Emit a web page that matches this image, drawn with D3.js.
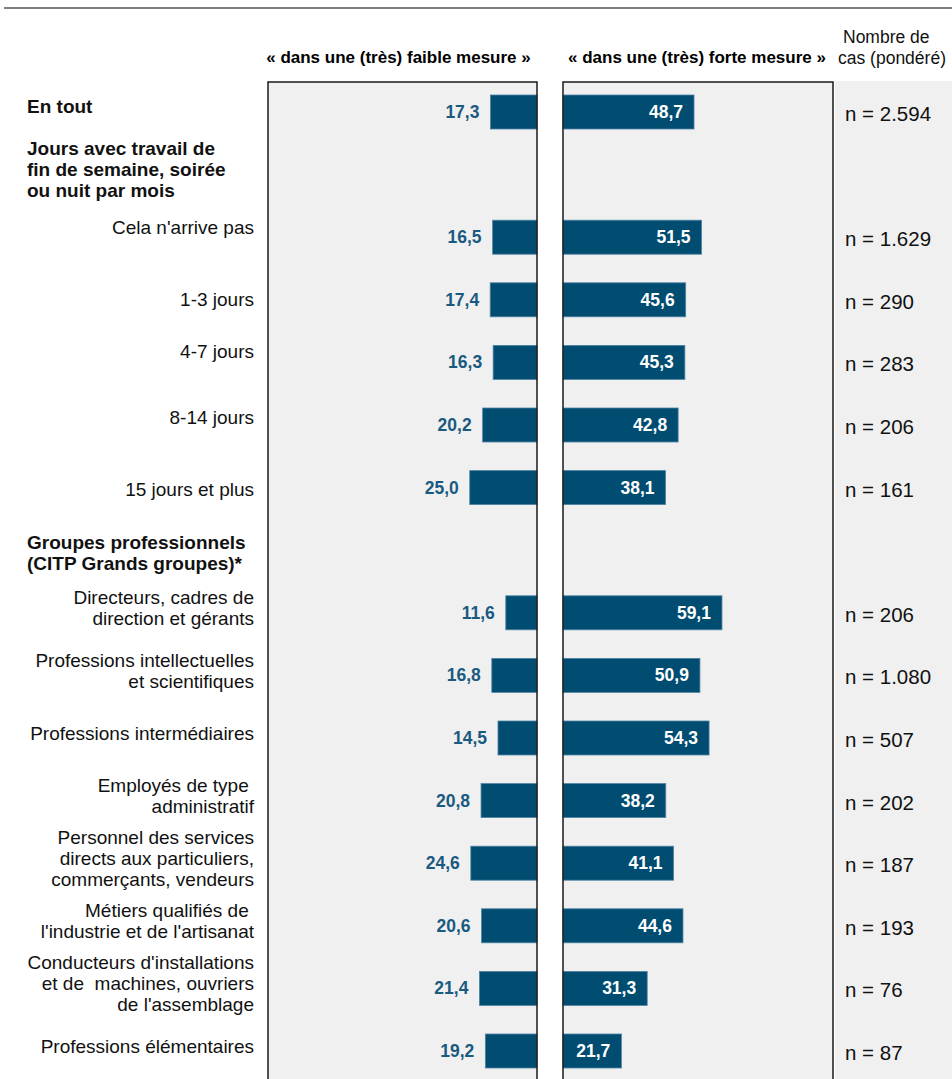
<!DOCTYPE html>
<html lang="fr">
<head>
<meta charset="utf-8">
<script src="https://cdn.jsdelivr.net/npm/d3@7"></script>
<style>
  html, body { margin: 0; padding: 0; background: #fff; }
  svg { display: block; font-family: "Liberation Sans", Arial, sans-serif; }
</style>
</head>
<body>
<svg id="chart" width="952" height="1079"></svg>
<script>
// Row order: section headings take a row slot of their own
const rows = [
  "En tout",
  "Jours avec travail de|fin de semaine, soirée|ou nuit par mois",
  "Cela n'arrive pas",
  "1-3 jours",
  "4-7 jours",
  "8-14 jours",
  "15 jours et plus",
  "Groupes professionnels|(CITP Grands groupes)*",
  "Directeurs, cadres de|direction et gérants",
  "Professions intellectuelles|et scientifiques",
  "Professions intermédiaires",
  "Employés de type |administratif",
  "Personnel des services|directs aux particuliers,|commerçants, vendeurs",
  "Métiers qualifiés de |l'industrie et de l'artisanat",
  "Conducteurs d'installations|et de  machines, ouvriers|de l'assemblage",
  "Professions élémentaires"
];
const headingRows = [
  "En tout",
  "Jours avec travail de|fin de semaine, soirée|ou nuit par mois",
  "Groupes professionnels|(CITP Grands groupes)*"
];

// Share answering "to a (very) low extent" / "to a (very) high extent", in %
const categories = [
  "En tout", "Cela n'arrive pas", "1-3 jours", "4-7 jours", "8-14 jours", "15 jours et plus",
  "Directeurs, cadres de|direction et gérants",
  "Professions intellectuelles|et scientifiques",
  "Professions intermédiaires",
  "Employés de type |administratif",
  "Personnel des services|directs aux particuliers,|commerçants, vendeurs",
  "Métiers qualifiés de |l'industrie et de l'artisanat",
  "Conducteurs d'installations|et de  machines, ouvriers|de l'assemblage",
  "Professions élémentaires"
];
const lowValues  = [17.3, 16.5, 17.4, 16.3, 20.2, 25.0, 11.6, 16.8, 14.5, 20.8, 24.6, 20.6, 21.4, 19.2];
const highValues = [48.7, 51.5, 45.6, 45.3, 42.8, 38.1, 59.1, 50.9, 54.3, 38.2, 41.1, 44.6, 31.3, 21.7];
const caseCounts = ["2.594", "1.629", "290", "283", "206", "161", "206", "1.080", "507", "202", "187", "193", "76", "87"];

const headerLow = "« dans une (très) faible mesure »";
const headerHigh = "« dans une (très) forte mesure »";
const headerCases = ["Nombre de", "cas (pondéré)"];

// Layout
const W = 952, H = 1079;
const panelTop = 82;
const leftPanel = [268, 537];
const rightPanel = [563, 833];
const caseX = 845;
const labelRight = 254;
const headingLeft = 27;
const barH = 34;
const lineH = 21;
const barColor = "#014d72";
const valueColor = "#1a5a80";
const fmt = v => d3.format(".1f")(v).replace(".", ",");
// vertical nudges of row labels relative to their row centre (px)
const labelNudge = {
  "En tout": -6,
  "Jours avec travail de|fin de semaine, soirée|ou nuit par mois": -6,
  "Groupes professionnels|(CITP Grands groupes)*": 2,
  "Cela n'arrive pas": -10, "1-3 jours": -1, "4-7 jours": -11, "8-14 jours": -8,
  "15 jours et plus": 1
};

const svg = d3.select("#chart");

const y = d3.scalePoint().domain(rows).range([112, 1051]);
const x = d3.scaleLinear().domain([0, 100]).range([0, leftPanel[1] - leftPanel[0]]);

const data = categories.map((c, i) => ({ cat: c, low: lowValues[i], high: highValues[i], n: caseCounts[i] }));

// top rule
svg.append("line").attr("x1", 4).attr("x2", W).attr("y1", 8).attr("y2", 8)
  .attr("stroke", "#555").attr("stroke-width", 1.5);

// column headers
svg.append("text").attr("x", (leftPanel[0] + leftPanel[1]) / 2 - 4).attr("y", 63)
  .attr("text-anchor", "middle").attr("font-weight", "bold").attr("font-size", 17).text(headerLow);
svg.append("text").attr("x", (rightPanel[0] + rightPanel[1]) / 2 - 1).attr("y", 63)
  .attr("text-anchor", "middle").attr("font-weight", "bold").attr("font-size", 17).text(headerHigh);
svg.append("text").attr("font-size", 17.5).attr("fill", "#111")
  .selectAll("tspan").data(headerCases).join("tspan")
  .attr("x", (d, i) => i === 0 ? 843 : 838).attr("y", (d, i) => 43 + i * 21).text(d => d);

// panel backgrounds
svg.append("rect").attr("x", rightPanel[1] + 2).attr("y", panelTop - 1).attr("width", W - rightPanel[1] - 2)
  .attr("height", H - panelTop + 2).attr("fill", "#f0f0f0");
[leftPanel, rightPanel].forEach(p => {
  svg.append("rect").attr("x", p[0]).attr("y", panelTop).attr("width", p[1] - p[0])
    .attr("height", H - panelTop + 10).attr("fill", "#f0f0f0");
});

// bars
const gLow = svg.append("g");
gLow.selectAll("rect").data(data).join("rect")
  .attr("x", d => leftPanel[1] - x(d.low)).attr("y", d => y(d.cat) - barH / 2)
  .attr("width", d => x(d.low)).attr("height", barH)
  .attr("fill", barColor).attr("stroke", "#4f82a3").attr("stroke-width", 0.8);
gLow.selectAll("text").data(data).join("text")
  .attr("x", d => leftPanel[1] - x(d.low) - 11).attr("y", d => y(d.cat) + 6)
  .attr("text-anchor", "end").attr("font-weight", "bold").attr("font-size", 17.5)
  .attr("fill", valueColor).text(d => fmt(d.low));

const gHigh = svg.append("g");
gHigh.selectAll("rect").data(data).join("rect")
  .attr("x", rightPanel[0]).attr("y", d => y(d.cat) - barH / 2)
  .attr("width", d => x(d.high)).attr("height", barH)
  .attr("fill", barColor).attr("stroke", "#4f82a3").attr("stroke-width", 0.8);
gHigh.selectAll("text").data(data).join("text")
  .attr("x", d => rightPanel[0] + x(d.high) - 11).attr("y", d => y(d.cat) + 6)
  .attr("text-anchor", "end").attr("font-weight", "bold").attr("font-size", 17.5)
  .attr("fill", "#fff").text(d => fmt(d.high));

// panel borders over the bars
[leftPanel, rightPanel].forEach(p => {
  svg.append("rect").attr("x", p[0]).attr("y", panelTop).attr("width", p[1] - p[0])
    .attr("height", H - panelTop + 10).attr("fill", "none")
    .attr("stroke", "#1a1a1a").attr("stroke-width", 1.5);
});

// case counts
svg.append("g").selectAll("text").data(data).join("text")
  .attr("x", caseX).attr("y", d => y(d.cat) + 9)
  .attr("font-size", 20.5).attr("fill", "#111").text(d => "n = " + d.n);

// row labels
const gLab = svg.append("g");
rows.forEach(r => {
  const lines = r.split("|");
  const heading = headingRows.includes(r);
  const nudge = labelNudge[r] !== undefined ? labelNudge[r] : -5;
  const cy = y(r) + nudge;
  const t = gLab.append("text")
    .attr("font-size", 19)
    .attr("font-weight", heading ? "bold" : "normal")
    .attr("text-anchor", heading ? "start" : "end")
    .attr("fill", "#111")
    .style("white-space", "pre");
  lines.forEach((l, i) => {
    t.append("tspan")
      .attr("x", heading ? headingLeft : labelRight)
      .attr("y", cy + (i - (lines.length - 1) / 2) * lineH + 7)
      .text(l);
  });
});
</script>
</body>
</html>
